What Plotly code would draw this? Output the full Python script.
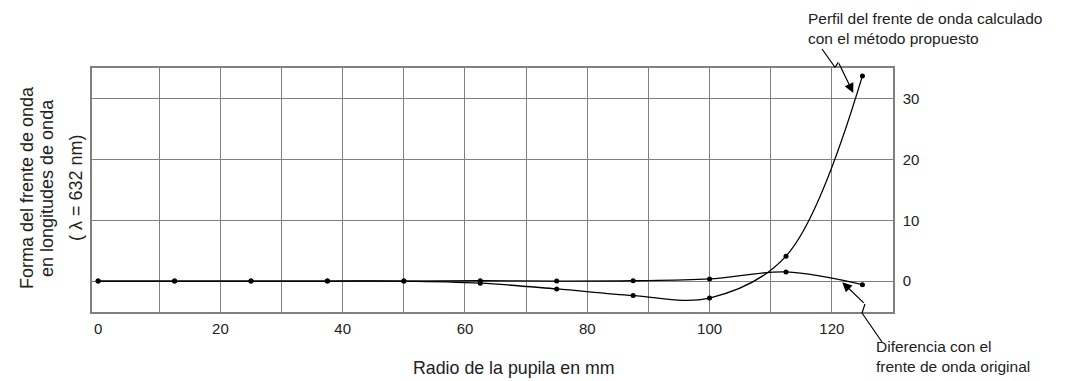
import plotly.graph_objects as go

# ---- data ----
radio_mm = [0, 12.5, 25, 37.5, 50, 62.5, 75, 87.5, 100, 112.5, 125]
perfil_calculado = [0, 0, 0, 0, 0, -0.35, -1.3, -2.4, -2.8, 4.1, 33.8]
diferencia_original = [0, 0, 0, 0, 0, 0.05, 0.0, 0.05, 0.35, 1.5, -0.6]

x_tick_vals = [0, 20, 40, 60, 80, 100, 120]
x_grid_vals = [10, 20, 30, 40, 50, 60, 70, 80, 90, 100, 110, 120]
y_tick_vals = [0, 10, 20, 30]

FONT = "Liberation Sans, Arial, Helvetica, sans-serif"
TXT = "#222222"
GRID = "#808080"

OFF = 8  # page body margin
L, T, PW, PH = 92 - OFF, 68 - OFF, 801, 244
W, H = 1065, 373

fig = go.Figure()

fig.add_trace(go.Scatter(
    x=radio_mm, y=perfil_calculado, mode="lines+markers",
    line=dict(color="black", width=1.3, shape="spline", smoothing=1.0),
    marker=dict(color="black", size=5), showlegend=False))

fig.add_trace(go.Scatter(
    x=radio_mm, y=diferencia_original, mode="lines+markers",
    line=dict(color="black", width=1.3, shape="spline", smoothing=1.0),
    marker=dict(color="black", size=5), showlegend=False))

# invisible trace on the grid axis so it is drawn
fig.add_trace(go.Scatter(x=[radio_mm[0]], y=[perfil_calculado[0]], xaxis="x2",
                         mode="markers", marker=dict(opacity=0), showlegend=False,
                         hoverinfo="skip"))

X_RANGE = [-1, 130]
Y_RANGE = [-5.1, 35.1]

fig.update_layout(
    width=W, height=H,
    margin=dict(l=L, r=W - L - PW, t=T, b=H - T - PH, autoexpand=False),
    paper_bgcolor="white", plot_bgcolor="white",
    font=dict(family=FONT, color=TXT, size=15),
    xaxis=dict(range=X_RANGE, tickmode="array", tickvals=x_tick_vals,
               showgrid=False, zeroline=False, showline=True, mirror=True,
               linecolor=GRID, linewidth=1.5, ticks="", ticklabelstandoff=2,
               tickfont=dict(size=15, color=TXT)),
    xaxis2=dict(range=X_RANGE, overlaying="x", matches="x", tickmode="array",
                tickvals=x_grid_vals, showgrid=True, gridcolor=GRID, gridwidth=1.2,
                showticklabels=False, zeroline=False, ticks=""),
    yaxis=dict(range=Y_RANGE, side="right", tickmode="array", tickvals=y_tick_vals,
               showgrid=True, gridcolor=GRID, gridwidth=1.2, zeroline=False,
               showline=True, mirror=True, linecolor=GRID, linewidth=1.5,
               ticks="", ticklabelstandoff=5, tickfont=dict(size=15, color=TXT)),
)

def px2paper(px, py):
    # px, py are page pixel positions
    return (px - OFF - L) / PW, (T + PH - (py - OFF)) / PH

anns = []
# x title
xx, yy = px2paper(514, 368)
anns.append(dict(text="Radio de la pupila en mm", x=xx, y=yy, xref="paper", yref="paper",
                 xanchor="center", yanchor="middle",
                 showarrow=False, font=dict(size=17.8, color=TXT)))
# y title lines (rotated)
for txt, px in [("Forma del frente de onda", 27), ("en longitudes de onda", 47),
                ("( λ = 632 nm)", 76)]:
    xx, yy = px2paper(px, 188)
    anns.append(dict(text=txt, x=xx, y=yy, xref="paper", yref="paper", textangle=-90,
                     xanchor="center", yanchor="middle",
                     showarrow=False, font=dict(size=18, color=TXT)))
# callout texts
for txt, px, py in [("Perfil del frente de onda calculado<br>con el método propuesto", 807, 28),
                    ("Diferencia con el<br>frente de onda original", 875, 356)]:
    xx, yy = px2paper(px, py)
    anns.append(dict(text=txt, x=xx, y=yy, xref="paper", yref="paper", xanchor="left",
                     yanchor="middle", align="left", borderpad=0, showarrow=False,
                     font=dict(size=15.5, color=TXT)))

# arrowheads (data-anchored tips)
anns.append(dict(text="", x=123.5, y=31.0, xref="x", yref="y", showarrow=True,
                 arrowhead=2, arrowsize=1.6, arrowwidth=1.2, arrowcolor="black",
                 ax=-15, ay=-31))
anns.append(dict(text="", x=121.7, y=-0.2, xref="x", yref="y", showarrow=True,
                 arrowhead=2, arrowsize=1.6, arrowwidth=1.2, arrowcolor="black",
                 ax=23, ay=22))
fig.update_layout(annotations=anns)

def path(points):
    s = ""
    for i, (px, py) in enumerate(points):
        xx, yy = px2paper(px, py)
        s += ("M" if i == 0 else "L") + f"{xx:.5f},{yy:.5f} "
    return s

shapes = [
    dict(type="path", xref="paper", yref="paper",
         path=path([(822, 49), (835, 67.3), (838.3, 62.3)]),
         line=dict(color="black", width=1.2)),
    dict(type="path", xref="paper", yref="paper",
         path=path([(865, 304), (862, 313), (882, 342)]),
         line=dict(color="black", width=1.2)),
]
fig.update_layout(shapes=shapes)

fig.write_html("out.html")
